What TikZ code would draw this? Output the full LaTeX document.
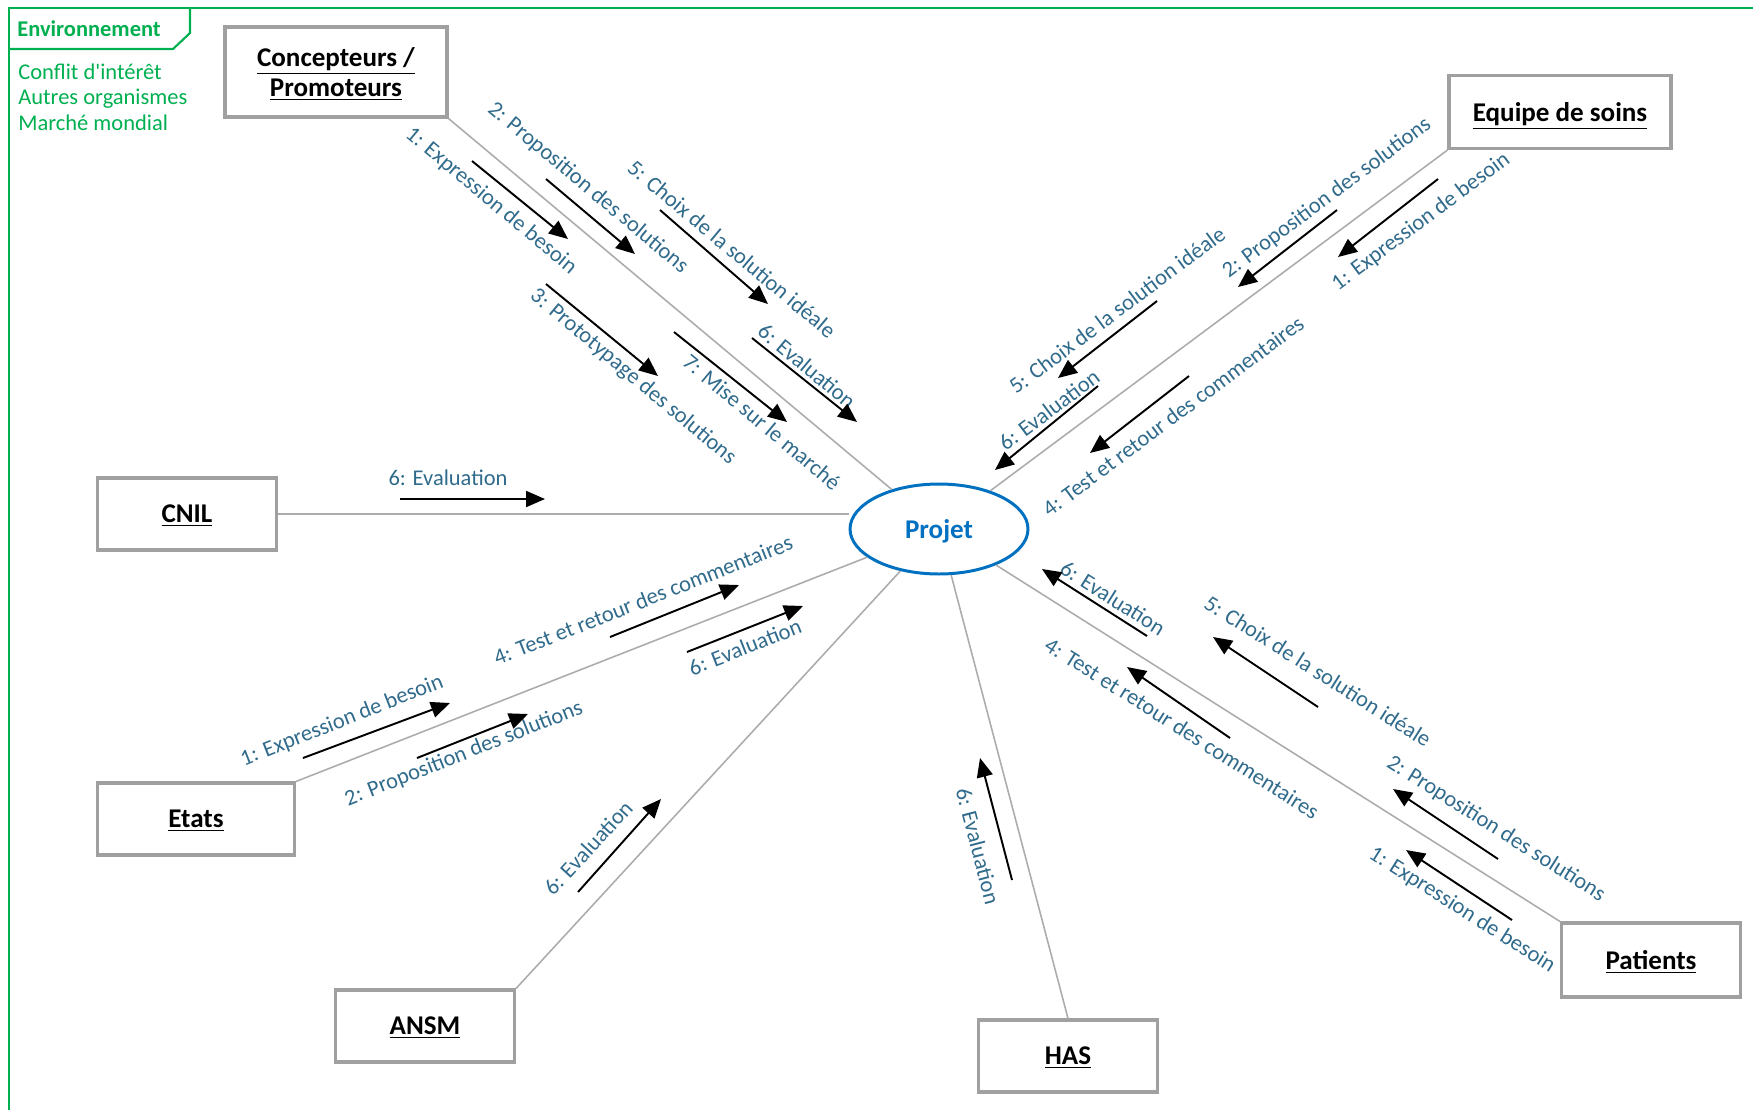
\documentclass[tikz,border=0pt]{standalone}
\usepackage{fontspec}
\setmainfont{Carlito}[Ligatures=TeXOff]
\usetikzlibrary{arrows.meta,shapes.geometric}

\definecolor{vertenv}{RGB}{0,176,80}
\definecolor{bleuprojet}{RGB}{0,112,192}
\definecolor{bleuetiq}{RGB}{49,107,140}
\definecolor{grisbord}{RGB}{160,160,160}
\definecolor{grislien}{RGB}{172,172,172}

\tikzset{
  cadre/.style={draw=vertenv, line width=1.2pt},
  acteur/.style={draw=grisbord, line width=1.8pt, fill=white, align=center, inner sep=0pt, text depth=0pt,
    minimum width=3.58cm, minimum height=1.44cm, font=\fontsize{15.4}{17}\selectfont\bfseries},
  projetstyle/.style={ellipse, draw=bleuprojet, line width=1.7pt, fill=white, inner sep=0pt, text depth=0pt,
    minimum width=3.56cm, minimum height=1.8cm, text=bleuprojet, font=\fontsize{15.4}{17}\selectfont\bfseries},
  lien/.style={draw=grislien, line width=0.9pt},
  fleche/.style={-{Triangle[length=3.8mm,width=3.2mm]}, line width=1.1pt, black},
  etiq/.style={text=bleuetiq, inner sep=0pt, font=\fontsize{12.8}{15}\selectfont},
}

\begin{document}
\begin{tikzpicture}[x=0.02cm, y=-0.02cm]

\useasboundingbox (0,0) rectangle (1753,1110);

\draw[cadre] (1753,8) -- (9,8) -- (9,1110);
\draw[cadre] (9,49) -- (173,49) -- (190,33) -- (190,8);
\node[text=vertenv, font=\fontsize{12.8}{15}\selectfont\bfseries] (env) at (89,29) {Environnement};
\node[anchor=west, align=left, inner sep=0pt, text=vertenv, font=\fontsize{12.8}{14.6}\selectfont] (envliste) at (18,97) {Conflit d'intérêt\\Autres organismes\\Marché mondial};

\node[projetstyle] (projet) at (939,529) {Projet};

\node[acteur, minimum width=4.44cm, minimum height=1.8cm] (concept) at (336,72) {\underline{Concepteurs /}\\\underline{Promoteurs}};
\node[acteur, minimum width=4.44cm, minimum height=1.46cm] (equipe) at (1560,112) {\underline{Equipe de soins}};
\node[acteur] (cnil) at (187,514) {\underline{CNIL}};
\node[acteur, minimum width=3.94cm] (etats) at (196,819) {\underline{Etats}};
\node[acteur] (ansm) at (425,1026) {\underline{ANSM}};
\node[acteur] (has) at (1068,1056) {\underline{HAS}};
\node[acteur, minimum height=1.48cm] (patients) at (1651,960) {\underline{Patients}};

\draw[lien] (concept.south east) -- (projet);
\draw[lien] (equipe.south west) -- (projet);
\draw[lien] (cnil.east) -- (cnil.east -| projet.west);
\draw[lien] (etats.north east) -- (projet);
\draw[lien] (ansm.north east) -- (projet);
\draw[lien] (has.north) -- (projet);
\draw[lien] (patients.north west) -- (projet);

\node[etiq, rotate=-39.9] (cp1) at (491,201) {1: Expression de besoin};
\node[etiq, rotate=-39.9] (cp2) at (588,188) {2: Proposition des solutions};
\node[etiq, rotate=-39.9] (cp3) at (633,377) {3: Prototypage des solutions};
\node[etiq, rotate=-39.9] (cp5) at (732,249) {5: Choix de la solution idéale};
\node[etiq, rotate=-39.9] (cp6) at (807,366) {6: Evaluation};
\node[etiq, rotate=-39.9] (cp7) at (762,422) {7: Mise sur le marché};
\draw[fleche] (472,161) -- (568,239);
\draw[fleche] (546,179) -- (635,254);
\draw[fleche] (546,284) -- (658,376);
\draw[fleche] (660,210) -- (768,304);
\draw[fleche] (752,338) -- (857,422);
\draw[fleche] (674,332) -- (787,422);

\node[etiq, rotate=36.7] (eq1) at (1421,222) {1: Expression de besoin};
\node[etiq, rotate=36.7] (eq2) at (1327,198) {2: Proposition des solutions};
\node[etiq, rotate=36.7] (eq4) at (1173,416) {4: Test et retour des commentaires};
\node[etiq, rotate=36.7] (eq5) at (1117,310) {5: Choix de la solution idéale};
\node[etiq, rotate=36.7] (eq6) at (1049,410) {6: Evaluation};
\draw[fleche] (1438,179) -- (1338,257);
\draw[fleche] (1337,210) -- (1238,287);
\draw[fleche] (1189,376) -- (1090,453);
\draw[fleche] (1157,301) -- (1058,378);
\draw[fleche] (1098,386) -- (995,470);

\node[etiq] (cn6) at (448,478) {6: Evaluation};
\draw[fleche] (400,499) -- (545,499);

\node[etiq, rotate=21.5] (et1) at (342,721) {1: Expression de besoin};
\node[etiq, rotate=21.5] (et2) at (464,754) {2: Proposition des solutions};
\node[etiq, rotate=21.5] (et4) at (643,600) {4: Test et retour des commentaires};
\node[etiq, rotate=21.5] (et6) at (745,647) {6: Evaluation};
\draw[fleche] (303,758) -- (450,703);
\draw[fleche] (417,758) -- (528,714);
\draw[fleche] (610,637) -- (739,585);
\draw[fleche] (687,652) -- (803,606);

\node[etiq, rotate=47.3] (an6) at (588,848) {6: Evaluation};
\draw[fleche] (578,892) -- (661,799);

\node[etiq, rotate=-75.4] (ha6) at (978,846) {6: Evaluation};
\draw[fleche] (1012,880) -- (980,758);

\node[etiq, rotate=-32.3] (pa1) at (1462,910) {1: Expression de besoin};
\node[etiq, rotate=-32.3] (pa2) at (1496,829) {2: Proposition des solutions};
\node[etiq, rotate=-32.3] (pa4) at (1182,728) {4: Test et retour des commentaires};
\node[etiq, rotate=-32.3] (pa5) at (1318,671) {5: Choix de la solution idéale};
\node[etiq, rotate=-32.3] (pa6) at (1113,598) {6: Evaluation};
\draw[fleche] (1512,920) -- (1406,850);
\draw[fleche] (1498,859) -- (1393,789);
\draw[fleche] (1230,738) -- (1127,667);
\draw[fleche] (1318,707) -- (1213,637);
\draw[fleche] (1147,636) -- (1042,569);

\end{tikzpicture}
\end{document}
